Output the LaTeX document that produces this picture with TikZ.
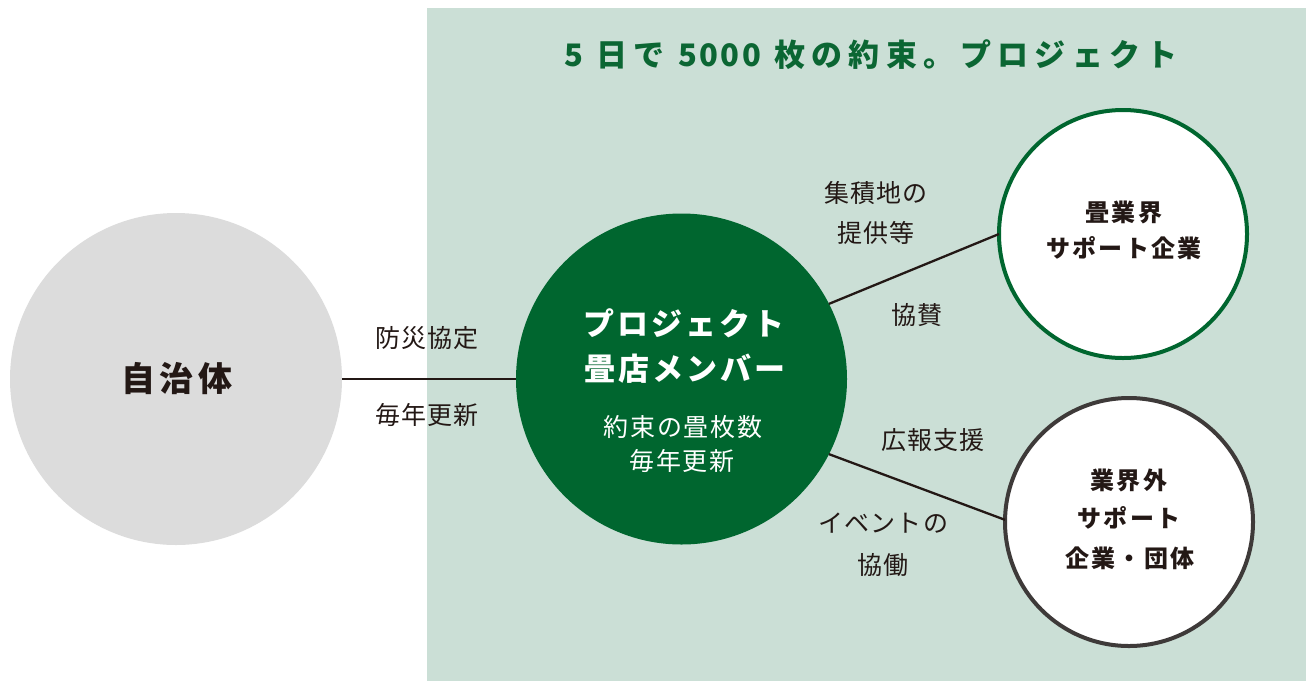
\documentclass[tikz,border=0pt]{standalone}
\usepackage{fontspec}
\newfontfamily\jp{Noto Sans CJK JP}
\definecolor{panel}{HTML}{CBDFD6}
\definecolor{dgreen}{HTML}{00662F}
\definecolor{tgreen}{HTML}{0B6633}
\definecolor{ink}{HTML}{231815}
\definecolor{lgray}{HTML}{DCDCDC}
\definecolor{ring}{HTML}{3E3A39}
\newcommand{\tightdigits}[1]{{\addfontfeatures{LetterSpace=8}#1}}
\tikzset{
  disc/.style={circle, inner sep=0pt, outer sep=0pt},
  conn/.style={draw=ink, line width=2.3pt},
  lbl/.style={font=\jp\fontsize{25}{25}\selectfont\addfontfeatures{LetterSpace=5}, text=ink, inner sep=0pt},
  subtxt/.style={font=\jp\fontsize{25}{25}\selectfont\addfontfeatures{LetterSpace=7}, text=white, inner sep=0pt},
  maintxt/.style={font=\jp\bfseries\fontsize{31}{31}\selectfont\addfontfeatures{LetterSpace=10}, text=white, inner sep=0pt},
  ringtxt/.style={font=\jp\bfseries\fontsize{24}{24}\selectfont\addfontfeatures{LetterSpace=10}, text=ink, inner sep=0pt},
}
\begin{document}
\begin{tikzpicture}[x=1pt,y=-1pt]
\useasboundingbox (0,0) rectangle (1306,681);
\fill[panel] (427,8) rectangle (1306,681);
% title
\node[font=\jp\bfseries\fontsize{31}{31}\selectfont\addfontfeatures{LetterSpace=20}, text=tgreen, inner sep=0pt] (title) at (871,55) {5 日で \tightdigits{5000} 枚の約束。プロジェクト};
% circles
\node[disc, fill=lgray, minimum size=332pt] (gov) at (176,379) {};
\node[disc, fill=dgreen, minimum size=331pt] (mem) at (681.5,379) {};
\node[disc, fill=white, draw=dgreen, line width=4pt, minimum size=248pt] (ind) at (1123,234) {};
\node[disc, fill=white, draw=ring, line width=4pt, minimum size=248pt] (ext) at (1129,522) {};
% connectors
\draw[conn] (gov.east) -- (mem.west);
\draw[conn] (mem.27) -- (ind.180.5);
\draw[conn] (mem.333.4) -- (ext.179.5);
% circle texts
\node[font=\jp\bfseries\fontsize{34}{34}\selectfont\addfontfeatures{LetterSpace=12}, text=ink, inner sep=0pt] (govt) at (177,379) {自治体};
\node[maintxt] (memt1) at (684,323) {プロジェクト};
\node[maintxt] (memt2) at (685,369) {畳店メンバー};
\node[subtxt] (memt3) at (683,427) {約束の畳枚数};
\node[subtxt] (memt4) at (682,461) {毎年更新};
\node[ringtxt] (indt1) at (1124,212) {畳業界};
\node[ringtxt] (indt2) at (1124,248) {サポート企業};
\node[ringtxt] (extt1) at (1129,480) {業界外};
\node[ringtxt] (extt2) at (1129,518) {サポート};
\node[ringtxt] (extt3) at (1130,558) {企業・団体};
% connector labels
\node[lbl] (l1) at (427,338) {防災協定};
\node[lbl] (l2) at (427,415) {毎年更新};
\node[lbl] (l3) at (876,193) {集積地の};
\node[lbl] (l4) at (876,233) {提供等};
\node[lbl] (l5) at (917,315) {協賛};
\node[lbl] (l6) at (933,440) {広報支援};
\node[lbl] (l7) at (883,523) {イベントの};
\node[lbl] (l8) at (883,565) {協働};
\end{tikzpicture}
\end{document}
